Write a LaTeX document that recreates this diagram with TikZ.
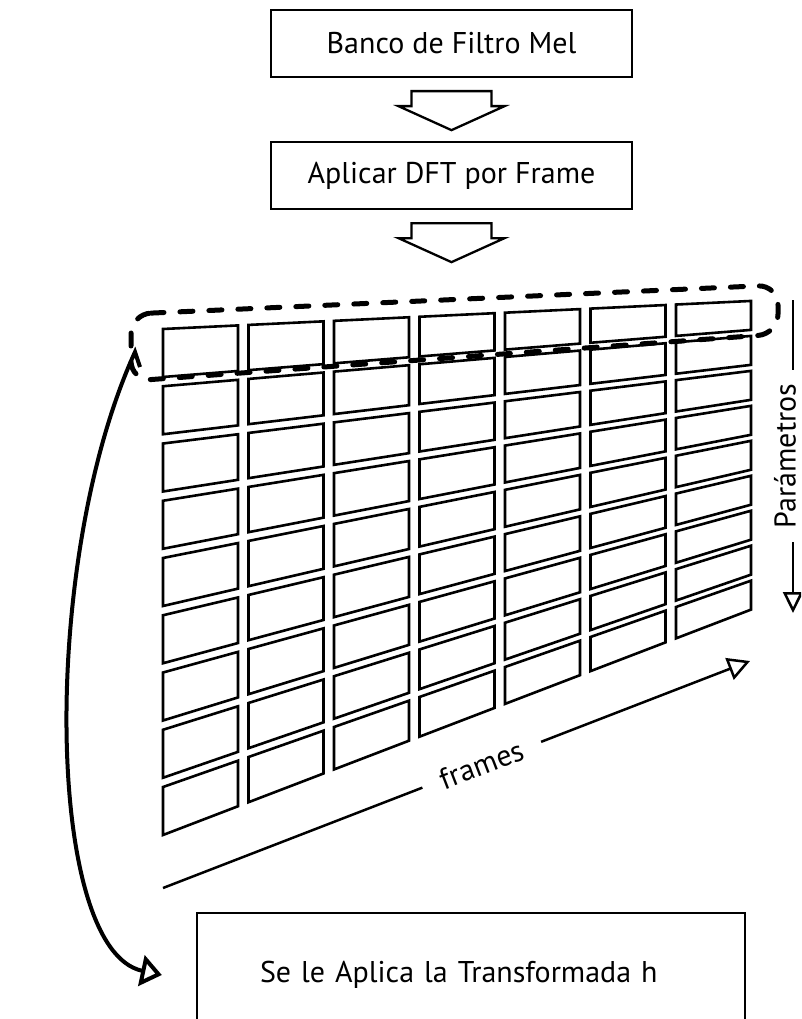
\documentclass[tikz,border=0pt]{standalone}
\usepackage{fontspec}
\setmainfont{PT Sans}
\usetikzlibrary{arrows.meta,calc}

% hollow block arrow below a node
\newcommand\blockdown[1]{\draw[blockarr] ($(#1)+(-40,13)$) -- ++(80,0) -- ++(0,15) -- ++(13,0) -- ++(-53,24) -- ++(-53,-24) -- ++(13,0) -- cycle;}

\begin{document}
\begin{tikzpicture}[x=1pt, y=-1pt, >={Triangle[open]},
  every node/.style={font=\fontsize{30}{36}\selectfont},
  box/.style={draw, line width=2.3pt, minimum width=361pt, minimum height=67pt, inner sep=0pt},
  cell/.style={draw, line width=2.6pt},
  blockarr/.style={line width=2.3pt},
  axis/.style={line width=2.5pt},
  rowmark/.style={line width=5pt, dash pattern=on 13pt off 16pt, line cap=round, rounded corners=20pt},
  backarc/.style={line width=4pt}]
\clip (0,0) rectangle (801,1019);
\node[box] (mel) at (451.5,43.5) {Banco de Filtro Mel};
\node[box] (dft) at (451.5,175.5) {Aplicar DFT por Frame};
\node[box, text width=422pt, align=left, inner xsep=63pt, minimum height=124pt] (trans) at (471,975) {Se le Aplica la Transformada h};
\blockdown{mel.south}
\blockdown{dft.south}
% frames x parameters matrix
\foreach \i in {0,...,6}{
  \foreach \j in {0,...,8}{
    \pgfmathsetmacro\xa{163+85.5*\i}
    \pgfmathsetmacro\xb{\xa+75}
    \pgfmathsetmacro\ya{329-0.0477*(\xa-163)+\j*(57.25-0.0379*(\xa-163))}
    \pgfmathsetmacro\yb{329-0.0477*(\xb-163)+\j*(57.25-0.0379*(\xb-163))}
    \pgfmathsetmacro\ha{48-0.0324*(\xa-163)}
    \pgfmathsetmacro\hb{48-0.0324*(\xb-163)}
    \draw[cell] (\xa,\ya) -- (\xb,\yb) -- (\xb,\yb+\hb) -- (\xa,\ya+\ha) -- cycle;
  }
}
\draw[rowmark] (131,314) -- (778,285) -- (778,334) -- (131,381) -- cycle;
% axes
\coordinate (axs) at (163,888);
\coordinate (axe) at (750,661);
\node[rotate=21.1, inner xsep=20pt, inner ysep=1pt] (frm) at ($(axs)!0.543!(axe)$) {frames};
\draw[axis] (axs) -- (frm.west);
\draw[axis, -{Triangle[open, length=22pt, width=23pt]}] (frm.east) -- (axe);
\coordinate (partop) at (793,300);
\node[rotate=90, inner xsep=14pt, inner ysep=0pt] (par) at (785,456) {Parámetros};
\draw[axis] (partop) -- (partop |- par.east);
\draw[axis, -{Triangle[open, length=21pt, width=20pt]}] (partop |- par.west) -- (793,613);
% back to the transform
\coordinate (arcend) at ($(trans.west)+(-34,0)$);
\draw[backarc, -{Triangle[open, length=21pt, width=31pt]}] (140,367) -- (135,352) .. controls (40,560) and (45,950) .. (arcend);
\end{tikzpicture}
\end{document}
